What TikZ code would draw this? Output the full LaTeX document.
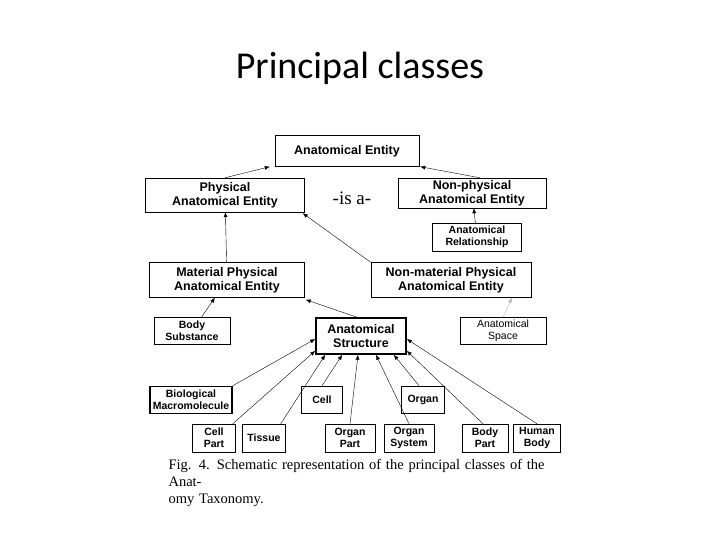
\documentclass[tikz,border=0pt]{standalone}
\usepackage{fontspec}
\setmainfont{Liberation Serif}
\setsansfont{Liberation Sans}
\newfontfamily\titlefont{Carlito}
\usetikzlibrary{arrows.meta}

\tikzset{
  cls/.style={draw, align=center, inner sep=0pt, font=\sffamily\bfseries\fontsize{12.5}{14}\selectfont},
  small/.style={cls, font=\sffamily\bfseries\fontsize{10.5}{12}\selectfont},
  key/.style={cls, line width=1.6pt},
  isa/.style={-{Latex[length=5pt,width=4pt]}, thin}
}

\begin{document}
\begin{tikzpicture}[x=1pt, y=-1pt]
    \useasboundingbox [fill=white] (0,0) rectangle (720,540);
    \path (360,68) node [font=\titlefont\fontsize{38}{44}\selectfont] (title) {Principal classes};
    % upper levels
    \path (347,151) node [cls, minimum width=144, minimum height=31] (ent) {Anatomical Entity};
    \path (225,195) node [cls, minimum width=159, minimum height=34] (phys) {Physical\\Anatomical Entity};
    \path (472,193) node [cls, minimum width=148, minimum height=30] (nphys) {Non-physical\\Anatomical Entity};
    \path (352,198) node [font=\fontsize{19}{22}\selectfont] (isa) {-is a-};
    \path (477,237) node [small, minimum width=89, minimum height=28] (rel) {Anatomical\\Relationship};
    \path (227,280) node [cls, minimum width=155, minimum height=35] (mat) {Material Physical\\Anatomical Entity};
    \path (451,280) node [cls, minimum width=160, minimum height=35] (nmat) {Non-material Physical\\Anatomical Entity};
    \draw [isa] (phys.north) -- ([xshift=-5]ent.south west);
    \draw [isa] ([xshift=8]nphys.north) -- ([xshift=1]ent.south east);
    \draw [isa] (rel) -- (nphys);
    \draw [isa] (mat) -- (phys);
    \draw [isa] (nmat.north west) -- ([xshift=-2,yshift=-1]phys.south east);
    % middle level
    \path (192,331) node [small, minimum width=76, minimum height=27] (subst) {Body\\Substance};
    \path (361,336) node [key, minimum width=90, minimum height=36] (struct) {Anatomical\\Structure};
    \path (503,331) node [small, font=\sffamily\fontsize{10.5}{12}\selectfont, minimum width=86, minimum height=27] (space) {Anatomical\\Space};
    \draw [isa] (subst) -- (mat);
    \draw [isa, gray!60] (space.north) -- ([xshift=61]nmat.south);
    \draw [isa] ([xshift=-4]struct.north) -- ([xshift=1,yshift=-2]mat.south east);
    % kinds of structure
    \path (191,400) node [small, line width=1.6pt, minimum width=82, minimum height=27] (macro) {Biological\\Macromolecule};
    \path (322,400) node [small, line width=1.6pt, minimum width=41, minimum height=27] (cell) {Cell};
    \path (423,400) node [small, line width=1.6pt, minimum width=43, minimum height=27] (organ) {Organ};
    \path (214,438) node [small, minimum width=43, minimum height=28] (cpart) {Cell\\Part};
    \path (264,438) node [small, minimum width=43, minimum height=28] (tissue) {Tissue};
    \path (350,438) node [small, minimum width=50, minimum height=28] (opart) {Organ\\Part};
    \path (409,438) node [small, minimum width=50, minimum height=28] (osys) {Organ\\System};
    \path (485,438) node [small, minimum width=46, minimum height=28] (bpart) {Body\\Part};
    \path (537,438) node [small, minimum width=47, minimum height=28] (hbody) {Human\\Body};
    \draw [isa] (macro.north east) -- ([yshift=-3]struct.west);
    \draw [isa] ([xshift=-3]cpart.north east) -- ([yshift=4]struct.south west);
    \draw [isa] ([xshift=-5]tissue.north east) -- ([xshift=10]struct.south west);
    \draw [isa] (cell.north) -- ([xshift=27]struct.south west);
    \draw [isa] (opart.north) -- ([xshift=-3]struct.south);
    \draw [isa] (osys.north) -- ([xshift=15]struct.south);
    \draw [isa] ([xshift=-4]organ.north) -- ([xshift=-13]struct.south east);
    \draw [isa] ([xshift=-2]bpart.north) -- ([yshift=4]struct.south east);
    \draw [isa] (hbody.north) -- ([yshift=-3]struct.east);
    % caption
    \path (165,483) node [anchor=west, font=\fontsize{14.5}{17}\selectfont, align=left, text width=405] (cap)
      {Fig. 4. Schematic representation of the principal classes of the Anat-\\omy Taxonomy.};
\end{tikzpicture}
\end{document}
